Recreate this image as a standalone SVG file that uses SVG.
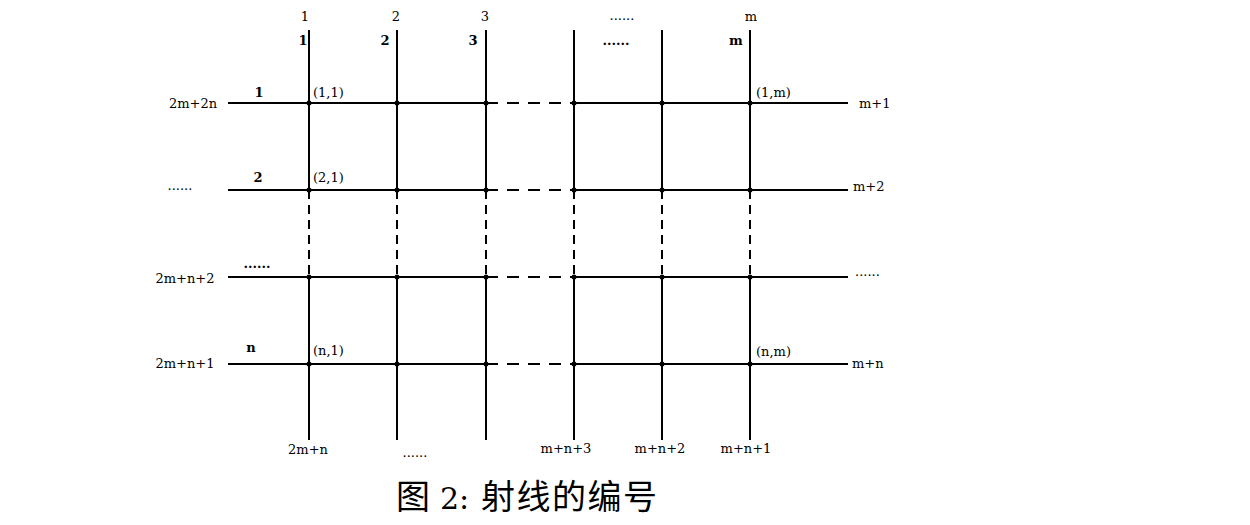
<svg xmlns="http://www.w3.org/2000/svg" width="1250" height="525" viewBox="0 0 1250 525">
<style>
.s{stroke:#000;stroke-width:2;fill:none}
.dh{stroke:#000;stroke-width:2;fill:none;stroke-dasharray:12 9}
.dv{stroke:#000;stroke-width:2;fill:none;stroke-dasharray:9 6}
.t{font-family:"DejaVu Serif","Liberation Serif",serif;font-size:13px;fill:#000}
.b{font-family:"DejaVu Serif","Liberation Serif",serif;font-size:13px;font-weight:bold;fill:#000}
.c{font-family:"Noto Sans CJK SC",sans-serif;font-size:34px;fill:#000}
.n{font-family:"DejaVu Serif","Liberation Serif",serif;font-size:30px}
.d{fill:#000}
</style>
<rect width="1250" height="525" fill="#fff"/>
<g id="connectors">
<path class="s" d="M309 30V190M397 30V190M486 30V190M574 30V190M662 30V190M750 30V190"/>
<path class="dv" d="M309 190V277M397 190V277M486 190V277M574 190V277M662 190V277M750 190V277"/>
<path class="s" d="M309 277V440M397 277V440M486 277V440M574 277V440M662 277V440M750 277V440"/>
<path class="s" d="M228 103H486M228 190H486M228 277H486M228 364H486"/>
<path class="dh" d="M486 103H574M486 190H574M486 277H574M486 364H574"/>
<path class="s" d="M574 103H848M574 190H848M574 277H848M574 364H848"/>
</g>
<g id="nodes">
<g class="d">
<circle cx="309" cy="103" r="2.5"/><circle cx="397" cy="103" r="2.5"/><circle cx="486" cy="103" r="2.5"/><circle cx="574" cy="103" r="2.5"/><circle cx="662" cy="103" r="2.5"/><circle cx="750" cy="103" r="2.5"/>
<circle cx="309" cy="190" r="2.5"/><circle cx="397" cy="190" r="2.5"/><circle cx="486" cy="190" r="2.5"/><circle cx="574" cy="190" r="2.5"/><circle cx="662" cy="190" r="2.5"/><circle cx="750" cy="190" r="2.5"/>
<circle cx="309" cy="277" r="2.5"/><circle cx="397" cy="277" r="2.5"/><circle cx="486" cy="277" r="2.5"/><circle cx="574" cy="277" r="2.5"/><circle cx="662" cy="277" r="2.5"/><circle cx="750" cy="277" r="2.5"/>
<circle cx="309" cy="364" r="2.5"/><circle cx="397" cy="364" r="2.5"/><circle cx="486" cy="364" r="2.5"/><circle cx="574" cy="364" r="2.5"/><circle cx="662" cy="364" r="2.5"/><circle cx="750" cy="364" r="2.5"/>
</g>
</g>
<g id="labels-top" text-anchor="middle">
<text class="t" x="305" y="21">1</text>
<text class="t" x="396" y="21">2</text>
<text class="t" x="485" y="21">3</text>
<text class="t" x="622" y="20">......</text>
<text class="t" x="751" y="21">m</text>
<text class="b" x="303" y="45">1</text>
<text class="b" x="385" y="45">2</text>
<text class="b" x="473" y="45">3</text>
<text class="b" x="616" y="45">......</text>
<text class="b" x="736" y="45">m</text>
</g>
<g id="labels-left" text-anchor="middle">
<text class="t" x="193" y="108">2m+2n</text>
<text class="b" x="259" y="97">1</text>
<text class="t" x="180" y="190">......</text>
<text class="b" x="258" y="182">2</text>
<text class="t" x="185" y="283">2m+n+2</text>
<text class="b" x="257" y="268">......</text>
<text class="b" x="251" y="352">n</text>
<text class="t" x="185" y="368">2m+n+1</text>
</g>
<g id="labels-coords">
<text class="t" x="313" y="97">(1,1)</text>
<text class="t" x="313" y="182">(2,1)</text>
<text class="t" x="313" y="355">(n,1)</text>
<text class="t" x="756" y="97">(1,m)</text>
<text class="t" x="756" y="356">(n,m)</text>
</g>
<g id="labels-right">
<text class="t" x="859" y="108">m+1</text>
<text class="t" x="853" y="191">m+2</text>
<text class="t" x="855" y="276">......</text>
<text class="t" x="852" y="368">m+n</text>
</g>
<g id="labels-bottom" text-anchor="middle">
<text class="t" x="308" y="454">2m+n</text>
<text class="t" x="415" y="457">......</text>
<text class="t" x="566" y="453">m+n+3</text>
<text class="t" x="660" y="453">m+n+2</text>
<text class="t" x="746" y="453">m+n+1</text>
</g>
<g id="caption">
<text class="c" y="509"><tspan x="396">图</tspan><tspan class="n" x="440">2:</tspan><tspan x="481" letter-spacing="1.5">射线的编号</tspan></text>
</g>
</svg>
